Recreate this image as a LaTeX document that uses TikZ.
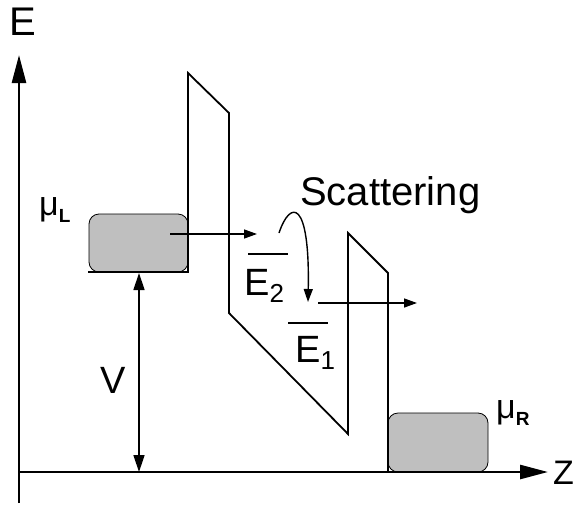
\documentclass[tikz,border=0pt]{standalone}
\usepackage{fontspec}
\setmainfont{Liberation Sans}
\usetikzlibrary{arrows.meta}

\newcommand{\fsz}[1]{\fontsize{#1}{#1}\selectfont}
\newcommand{\lsub}[1]{\raisebox{-7pt}{\fsz{26}#1}}
\newcommand{\msub}[1]{\raisebox{-7pt}{\fsz{19}\bfseries #1}}

\begin{document}
\begin{tikzpicture}[x=1pt, y=-1pt, line join=miter,
    lbl/.style={inner sep=0pt, anchor=base west},
    reservoir/.style={draw=black, line width=0.8pt, fill=black!25, rounded corners=10pt},
    axis/.style={line width=2.6pt, -{Triangle[length=28pt, width=14pt]}},
    profile/.style={line width=1.8pt},
    flow/.style={line width=1.4pt, -{Triangle[length=13pt, width=9pt]}}]
\useasboundingbox (0,0) rectangle (575,506);
% band profile
\coordinate (O)  at (19,472);
\coordinate (A)  at (88,272);
\coordinate (B)  at (188,272);
\coordinate (C)  at (188,73);
\coordinate (D)  at (229,113);
\coordinate (F)  at (229,313);
\coordinate (G)  at (348,434);
\coordinate (H)  at (348,233);
\coordinate (I)  at (388,273);
\coordinate (J)  at (388,472);
% reservoirs
\path[reservoir] (89,214) rectangle (188,272);
\path[reservoir] (388,413) rectangle (488,472);
\draw[profile] (A) -- (B) -- (C) -- (D) -- (F) -- (G) -- (H) -- (I) -- (J);
% axes
\draw[axis] (19,503) -- (19,55);
\draw[axis] (O) -- (548,472);
\node[lbl, font=\fsz{40}] (Elab) at (9,35) {E};
\node[lbl, font=\fsz{34}] (Zlab) at (553,484) {Z};
% levels
\coordinate (E2a) at (248,254);
\coordinate (E2b) at (288,254);
\coordinate (E1a) at (288,323);
\coordinate (E1b) at (328,323);
\draw[line width=1.6pt] (E2a) -- (E2b);
\draw[line width=1.6pt] (E1a) -- (E1b);
\node[lbl, font=\fsz{38}] (E2lab) at (244,295) {E\lsub{2}};
\node[lbl, font=\fsz{38}] (E1lab) at (295,362) {E\lsub{1}};
% transport
\coordinate (in1)  at (170,234);
\coordinate (out1) at (257,234);
\coordinate (in2)  at (318,303);
\coordinate (out2) at (417,303);
\draw[flow] (in1) -- (out1);
\draw[flow] (in2) -- (out2);
\coordinate (sc1) at (279,233);
\coordinate (sc2) at (308,302);
\draw[flow] (sc1) .. controls (290,200) and (310,198) .. (sc2);
\node[lbl, font=\fsz{40}] (scat) at (300,205) {Scattering};
% bias
\coordinate (V1) at (139,273);
\coordinate (V2) at (139,472);
\draw[line width=1.4pt, {Triangle[length=17pt, width=11pt]}-{Triangle[length=17pt, width=11pt]}] (V1) -- (V2);
\node[lbl, font=\fsz{38}] (Vlab) at (100,393) {V};
\node[lbl, font=\fsz{34}] (muL) at (39,215) {μ\msub{L}};
\node[lbl, font=\fsz{34}] (muR) at (496,418) {μ\msub{R}};
\end{tikzpicture}
\end{document}
